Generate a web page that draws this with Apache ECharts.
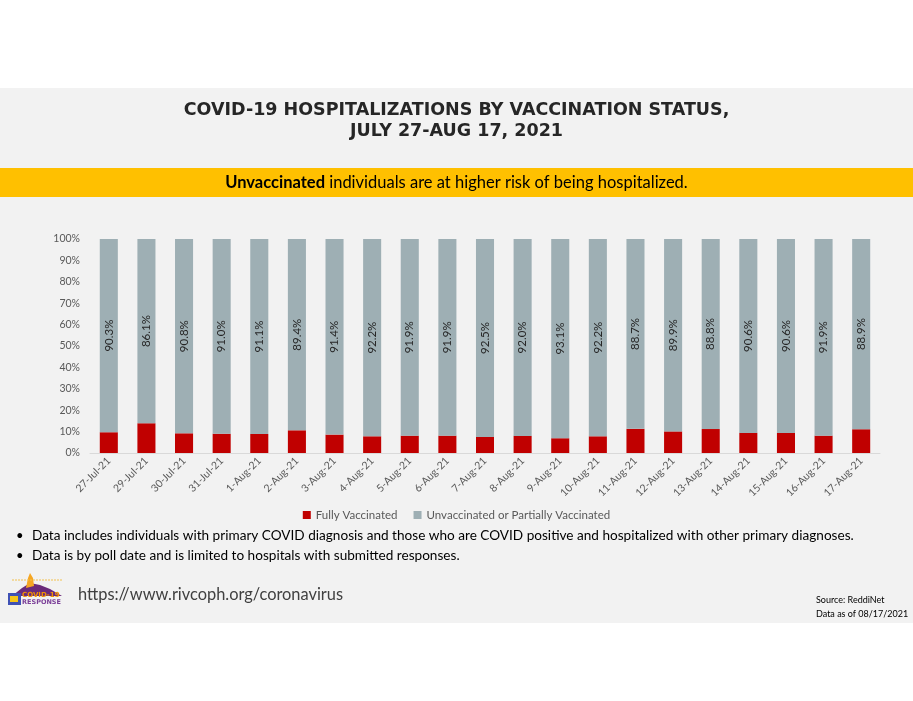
<!DOCTYPE html>
<html>
<head>
<meta charset="utf-8">
<script src="https://cdn.jsdelivr.net/npm/echarts@6/dist/echarts.min.js"></script>
<style>
html,body{margin:0;padding:0;background:#ffffff;}
#chart{width:913px;height:701px;}
</style>
</head>
<body>
<div id="chart"></div>
<script>
const categories = ['27-Jul-21','29-Jul-21','30-Jul-21','31-Jul-21','1-Aug-21','2-Aug-21','3-Aug-21','4-Aug-21','5-Aug-21','6-Aug-21','7-Aug-21','8-Aug-21','9-Aug-21','10-Aug-21','11-Aug-21','12-Aug-21','13-Aug-21','14-Aug-21','15-Aug-21','16-Aug-21','17-Aug-21'];
const unvaccinated = [90.3,86.1,90.8,91.0,91.1,89.4,91.4,92.2,91.9,91.9,92.5,92.0,93.1,92.2,88.7,89.9,88.8,90.6,90.6,91.9,88.9];
const fullyVaccinated = [9.7,13.9,9.2,9.0,8.9,10.6,8.6,7.8,8.1,8.1,7.5,8.0,6.9,7.8,11.3,10.1,11.2,9.4,9.4,8.1,11.1];
const yTicks = [0,10,20,30,40,50,60,70,80,90,100];
const seriesNames = ['Fully Vaccinated','Unvaccinated or Partially Vaccinated'];
const titleLines = ['COVID-19 HOSPITALIZATIONS BY VACCINATION STATUS,','JULY 27-AUG 17, 2021'];
const bullets = ['Data includes individuals with primary COVID diagnosis and those who are COVID positive and hospitalized with other primary diagnoses.','Data is by poll date and is limited to hospitals with submitted responses.'];

const chart = echarts.init(document.getElementById('chart'));
const FONT = 'Lato, "Open Sans", sans-serif';

const option = {
  backgroundColor: '#ffffff',
  animation: false,
  graphic: [
    {type:'rect', silent:true, z:-10, shape:{x:0,y:88,width:913,height:535}, style:{fill:'#f2f2f2'}},
    {type:'rect', silent:true, z:-9, shape:{x:0,y:168,width:913,height:29}, style:{fill:'#ffc000'}},
    {type:'text', left:'center', top:101, style:{text:titleLines[0], font:'bold 17.5px "DejaVu Sans", sans-serif', fill:'#262626'}},
    {type:'text', left:'center', top:122, style:{text:titleLines[1], font:'bold 17.5px "DejaVu Sans", sans-serif', fill:'#262626'}},
    {type:'text', left:'center', top:174, style:{
      text:'{b|Unvaccinated} individuals are at higher risk of being hospitalized.',
      font:'16.5px '+FONT, fill:'#000000',
      rich:{b:{fontWeight:'bold', fontSize:16.5, fontFamily:FONT, fill:'#000000'}}
    }},
    {type:'text', left:16, top:529, style:{text:'•', font:'13px '+FONT, fill:'#000'}},
    {type:'text', left:32, top:529, style:{text:bullets[0], font:'13.6px '+FONT, fill:'#000'}},
    {type:'text', left:16, top:549, style:{text:'•', font:'13px '+FONT, fill:'#000'}},
    {type:'text', left:32, top:549, style:{text:bullets[1], font:'13.6px '+FONT, fill:'#000'}},
    // logo (decorative)
    {type:'polygon', silent:true, shape:{points:[[12,596],[22,588],[30,583],[40,585],[50,589],[62,596]]}, style:{fill:'#6a2a7a'}},
    {type:'polygon', silent:true, shape:{points:[[26,588],[28,578],[30,573],[33,578],[34,586]]}, style:{fill:'#f5a623'}},
    {type:'line', silent:true, shape:{x1:12,y1:580,x2:62,y2:580}, style:{stroke:'#f2c14e', lineWidth:1, lineDash:[2,1]}},
    {type:'rect', silent:true, shape:{x:8,y:593,width:13,height:12}, style:{fill:'#3f51b5'}},
    {type:'rect', silent:true, shape:{x:10,y:596,width:8,height:6}, style:{fill:'#f5c518'}},
    {type:'text', left:22, top:592, style:{text:'COVID-19', font:'bold 7px "DejaVu Sans", sans-serif', fill:'#f39200'}},
    {type:'text', left:22, top:599, style:{text:'RESPONSE', font:'bold 6.5px "DejaVu Sans", sans-serif', fill:'#7b3f98'}},
    {type:'text', left:78, top:587, style:{text:'https://www.rivcoph.org/coronavirus', font:'16.4px '+FONT, fill:'#404040'}},
    {type:'text', left:816, top:596, style:{text:'Source: ReddiNet', font:'9px '+FONT, fill:'#000'}},
    {type:'text', left:816, top:610, style:{text:'Data as of 08/17/2021', font:'9px '+FONT, fill:'#000'}}
  ],
  legend: {
    data: seriesNames,
    left: 'center',
    top: 504,
    itemWidth: 8,
    itemHeight: 8,
    itemGap: 16,
    icon: 'rect',
    textStyle: {fontFamily: FONT, fontSize: 11.5, color: '#595959'}
  },
  grid: {left: 90, right: 33, top: 239, bottom: 248, containLabel: false},
  xAxis: {
    type: 'category',
    data: categories,
    axisLine: {lineStyle: {color: '#d9d9d9'}},
    axisTick: {show: false},
    axisLabel: {rotate: 45, fontFamily: FONT, fontSize: 10.5, color: '#595959', margin: 6, interval: 0}
  },
  yAxis: {
    type: 'value',
    min: 0, max: 100, interval: 10,
    axisLine: {show: false},
    axisTick: {show: false},
    splitLine: {show: false},
    axisLabel: {formatter: v => v + '%', fontFamily: FONT, fontSize: 10.5, color: '#595959', margin: 10}
  },
  series: [
    {
      name: seriesNames[0], type: 'bar', stack: 'total', barWidth: '48%',
      itemStyle: {color: '#c00000'},
      data: fullyVaccinated
    },
    {
      name: seriesNames[1], type: 'bar', stack: 'total', barWidth: '48%',
      itemStyle: {color: '#9eafb4'},
      label: {show: true, position: 'inside', rotate: 90, formatter: p => p.value.toFixed(1) + '%',
        fontFamily: FONT, fontSize: 11.5, color: '#262626'},
      data: unvaccinated
    }
  ]
};
chart.setOption(option);
</script>
</body>
</html>
